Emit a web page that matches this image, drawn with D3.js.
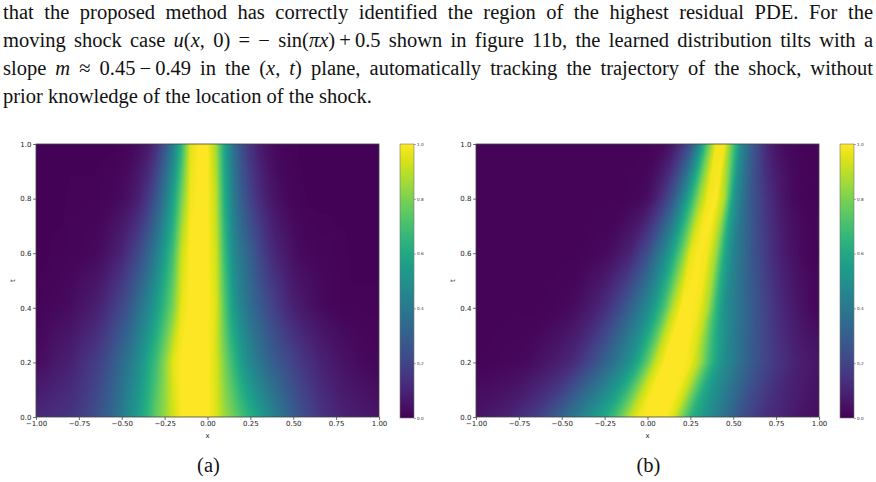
<!DOCTYPE html>
<html>
<head>
<meta charset="utf-8">
<script src="https://cdn.jsdelivr.net/npm/d3@7"></script>
<style>
  body { margin: 0; background: #fff; }
  svg { display: block; }
</style>
</head>
<body>
<script>
// grid of the two heatmaps (rows = t, columns = x)
const xGrid = [-1.00, -0.95, -0.90, -0.85, -0.80, -0.75, -0.70, -0.65, -0.60, -0.55,
               -0.50, -0.45, -0.40, -0.35, -0.30, -0.25, -0.20, -0.15, -0.10, -0.05,
                0.00,  0.05,  0.10,  0.15,  0.20,  0.25,  0.30,  0.35,  0.40,  0.45,
                0.50,  0.55,  0.60,  0.65,  0.70,  0.75,  0.80,  0.85,  0.90,  0.95, 1.00];
const tGrid = [0.0, 0.2, 0.4, 0.6, 0.8, 1.0];

// (a) static shock
const residualA = [
  [0.12, 0.12, 0.13, 0.14, 0.15, 0.17, 0.20, 0.24, 0.29, 0.34, 0.41, 0.49, 0.56, 0.65, 0.76, 0.84, 0.93, 1.00, 1.00, 1.00,
   1.00, 0.95, 0.85, 0.78, 0.70, 0.63, 0.56, 0.49, 0.42, 0.35, 0.29, 0.24, 0.20, 0.16, 0.13, 0.11, 0.09, 0.08, 0.07, 0.06, 0.05],
  [0.03, 0.04, 0.06, 0.075, 0.09, 0.12, 0.15, 0.18, 0.22, 0.28, 0.34, 0.41, 0.49, 0.59, 0.69, 0.82, 0.96, 1.00, 1.00, 1.00,
   1.00, 0.94, 0.80, 0.67, 0.55, 0.46, 0.39, 0.33, 0.28, 0.24, 0.20, 0.16, 0.13, 0.10, 0.08, 0.06, 0.045, 0.035, 0.025, 0.02, 0.015],
  [0.01, 0.015, 0.02, 0.025, 0.03, 0.05, 0.065, 0.085, 0.12, 0.17, 0.22, 0.28, 0.37, 0.45, 0.55, 0.67, 0.80, 0.97, 1.00, 1.00,
   1.00, 0.95, 0.74, 0.55, 0.44, 0.36, 0.29, 0.23, 0.18, 0.13, 0.09, 0.065, 0.045, 0.03, 0.02, 0.015, 0.01, 0.01, 0.01, 0.01, 0.01],
  [0.005, 0.005, 0.01, 0.01, 0.015, 0.015, 0.02, 0.025, 0.04, 0.07, 0.10, 0.16, 0.22, 0.31, 0.42, 0.55, 0.70, 0.92, 1.00, 1.00,
   1.00, 0.93, 0.68, 0.48, 0.38, 0.30, 0.22, 0.15, 0.10, 0.07, 0.04, 0.025, 0.02, 0.015, 0.015, 0.01, 0.01, 0.005, 0.005, 0.005, 0.005],
  [0.005, 0.005, 0.005, 0.005, 0.01, 0.01, 0.01, 0.01, 0.015, 0.02, 0.03, 0.05, 0.09, 0.16, 0.26, 0.40, 0.57, 0.79, 0.98, 1.00,
   1.00, 0.90, 0.62, 0.42, 0.29, 0.20, 0.13, 0.08, 0.045, 0.025, 0.015, 0.01, 0.005, 0.005, 0.005, 0.005, 0.005, 0.005, 0.005, 0.005, 0.005],
  [0.005, 0.005, 0.005, 0.005, 0.005, 0.005, 0.005, 0.005, 0.005, 0.005, 0.01, 0.015, 0.03, 0.06, 0.13, 0.25, 0.42, 0.66, 0.95, 1.00,
   1.00, 0.86, 0.58, 0.37, 0.23, 0.14, 0.08, 0.04, 0.02, 0.01, 0.01, 0.005, 0.005, 0.005, 0.005, 0.005, 0.005, 0.005, 0.005, 0.005, 0.005]
];
// x of the bright band in each row of (a)
const centreA = [-0.07, -0.07, -0.05, -0.04, -0.03, -0.03];

// (b) moving shock
const residualB = [
  [0.05, 0.06, 0.07, 0.085, 0.10, 0.125, 0.15, 0.18, 0.22, 0.27, 0.32, 0.38, 0.43, 0.48, 0.54, 0.60, 0.68, 0.78, 0.90, 0.98,
   1.00, 1.00, 1.00, 0.95, 0.80, 0.65, 0.57, 0.50, 0.43, 0.37, 0.30, 0.24, 0.20, 0.16, 0.13, 0.11, 0.09, 0.07, 0.05, 0.04, 0.03],
  [0.01, 0.012, 0.015, 0.018, 0.02, 0.022, 0.027, 0.04, 0.055, 0.07, 0.09, 0.11, 0.15, 0.20, 0.25, 0.31, 0.37, 0.44, 0.51, 0.62,
   0.76, 0.92, 1.00, 1.00, 1.00, 0.98, 0.88, 0.72, 0.58, 0.48, 0.42, 0.35, 0.29, 0.24, 0.20, 0.16, 0.13, 0.10, 0.08, 0.065, 0.05],
  [0.01, 0.01, 0.01, 0.01, 0.01, 0.01, 0.01, 0.01, 0.012, 0.015, 0.02, 0.025, 0.04, 0.065, 0.09, 0.13, 0.18, 0.24, 0.31, 0.39,
   0.47, 0.58, 0.72, 0.90, 1.00, 1.00, 0.98, 0.88, 0.66, 0.50, 0.43, 0.36, 0.30, 0.24, 0.19, 0.14, 0.10, 0.07, 0.045, 0.025, 0.015],
  [0.01, 0.01, 0.01, 0.01, 0.01, 0.01, 0.01, 0.01, 0.01, 0.01, 0.01, 0.01, 0.01, 0.015, 0.02, 0.025, 0.04, 0.07, 0.10, 0.17,
   0.24, 0.35, 0.46, 0.60, 0.77, 0.96, 1.00, 0.98, 0.85, 0.60, 0.45, 0.37, 0.28, 0.22, 0.16, 0.11, 0.07, 0.045, 0.025, 0.015, 0.01],
  [0.01, 0.01, 0.01, 0.01, 0.01, 0.01, 0.01, 0.01, 0.01, 0.01, 0.01, 0.01, 0.01, 0.01, 0.01, 0.01, 0.01, 0.01, 0.015, 0.02,
   0.035, 0.09, 0.17, 0.28, 0.44, 0.63, 0.84, 0.98, 1.00, 0.87, 0.55, 0.39, 0.28, 0.21, 0.14, 0.09, 0.05, 0.025, 0.015, 0.01, 0.01],
  [0.01, 0.01, 0.01, 0.01, 0.01, 0.01, 0.01, 0.01, 0.01, 0.01, 0.01, 0.01, 0.01, 0.01, 0.01, 0.01, 0.01, 0.01, 0.01, 0.01,
   0.01, 0.015, 0.025, 0.06, 0.14, 0.25, 0.46, 0.74, 0.98, 0.98, 0.72, 0.46, 0.31, 0.20, 0.10, 0.05, 0.025, 0.015, 0.01, 0.01, 0.01]
];
// x of the bright band in each row of (b)
const centreB = [0.03, 0.17, 0.26, 0.31, 0.38, 0.425];

const xTicks = [-1.00, -0.75, -0.50, -0.25, 0.00, 0.25, 0.50, 0.75, 1.00];
const tTicks = [0.0, 0.2, 0.4, 0.6, 0.8, 1.0];
const cbarTicks = [0.0, 0.2, 0.4, 0.6, 0.8, 1.0];

const W = 876, H = 482;
const svg = d3.select("body").append("svg")
    .attr("width", W)
    .attr("height", H);

const color = d3.scaleSequential(d3.interpolateViridis).domain([0, 1]).clamp(true);

// paragraph above the figure
const paraFont = "Liberation Serif, DejaVu Serif, serif";
const paraSize = 20.5;
const lines = [
    [["that the proposed method has correctly identified the region of the highest residual PDE. For the", false]],
    [["moving shock case ", false], ["u", true], ["(", false], ["x", true], [", 0) = \u2212 sin(", false], ["\u03c0x", true],
     [")\u2009+\u20090.5 shown in figure 11b, the learned distribution tilts with a", false]],
    [["slope ", false], ["m", true], [" \u2248 0.45\u2009\u2212\u20090.49 in the (", false], ["x", true], [", ", false], ["t", true],
     [") plane, automatically tracking the trajectory of the shock, without", false]],
    [["prior knowledge of the location of the shock.", false]]
];
const lineY = [19, 47, 75, 103];

lines.forEach((parts, i) => {
    const txt = svg.append("text")
        .attr("x", 3)
        .attr("y", lineY[i])
        .attr("font-family", paraFont)
        .attr("font-size", paraSize)
        .attr("fill", "#111");
    parts.forEach(p => {
        txt.append("tspan")
            .attr("font-style", p[1] ? "italic" : null)
            .text(p[0]);
    });
    if (i < 3) {
        // justify with word spacing
        const natural = txt.node().getComputedTextLength();
        const spaces = parts.map(p => p[0]).join("").split(" ").length - 1;
        txt.attr("word-spacing", (870 - natural) / spaces);
    }
});

// value of one row at position x (linear between read points)
function rowValue(row, x) {
    x = Math.max(-1, Math.min(1, x));
    let i = Math.min(xGrid.length - 2, Math.max(0, d3.bisectRight(xGrid, x) - 1));
    let fx = (x - xGrid[i]) / (xGrid[i + 1] - xGrid[i]);
    return row[i] * (1 - fx) + row[i + 1] * fx;
}

// blend neighbouring rows, following the band so it moves smoothly
function sample(grid, centre, x, t) {
    let j = Math.min(tGrid.length - 2, Math.max(0, d3.bisectRight(tGrid, t) - 1));
    let ft = (t - tGrid[j]) / (tGrid[j + 1] - tGrid[j]);
    let c = centre[j] * (1 - ft) + centre[j + 1] * ft;
    let a = rowValue(grid[j], x - c + centre[j]);
    let b = rowValue(grid[j + 1], x - c + centre[j + 1]);
    return a * (1 - ft) + b * ft;
}

// viridis gradient for the colour bars
const defs = svg.append("defs");
const grad = defs.append("linearGradient")
    .attr("id", "viridis")
    .attr("x1", 0).attr("y1", 1).attr("x2", 0).attr("y2", 0);
d3.range(0, 21).forEach(k => {
    grad.append("stop")
        .attr("offset", k / 20)
        .attr("stop-color", color(k / 20));
});

function drawPanel(grid, centre, left, cbLeft, caption) {
    const top = 144, bottom = 417, right = left + 343;
    const x = d3.scaleLinear().domain([-1, 1]).range([left, right]);
    const t = d3.scaleLinear().domain([0, 1]).range([bottom, top]);

    // heatmap image
    const w = right - left, h = bottom - top;
    const canvas = document.createElement("canvas");
    canvas.width = w;
    canvas.height = h;
    const ctx = canvas.getContext("2d");
    const img = ctx.createImageData(w, h);
    for (let py = 0; py < h; py++) {
        const tv = t.invert(top + py + 0.5);
        for (let px = 0; px < w; px++) {
            const xv = x.invert(left + px + 0.5);
            const c = d3.rgb(color(sample(grid, centre, xv, tv)));
            const k = (py * w + px) * 4;
            img.data[k] = c.r;
            img.data[k + 1] = c.g;
            img.data[k + 2] = c.b;
            img.data[k + 3] = 255;
        }
    }
    ctx.putImageData(img, 0, 0);
    svg.append("image")
        .attr("x", left).attr("y", top)
        .attr("width", w).attr("height", h)
        .attr("href", canvas.toDataURL());

    svg.append("rect")
        .attr("x", left).attr("y", top)
        .attr("width", w).attr("height", h)
        .attr("fill", "none")
        .attr("stroke", "#444")
        .attr("stroke-width", 0.8);

    const xAxis = svg.append("g")
        .attr("transform", `translate(0,${bottom})`)
        .call(d3.axisBottom(x).tickValues(xTicks).tickFormat(d3.format(".2f")).tickSize(3).tickPadding(1.5));
    const tAxis = svg.append("g")
        .attr("transform", `translate(${left},0)`)
        .call(d3.axisLeft(t).tickValues(tTicks).tickFormat(d3.format(".1f")).tickSize(3).tickPadding(1.5));
    [xAxis, tAxis].forEach(g => {
        g.select(".domain").remove();
        g.selectAll("line").attr("stroke", "#333").attr("stroke-width", 0.7);
        g.selectAll("text")
            .attr("font-family", "DejaVu Sans")
            .attr("font-size", 7)
            .attr("fill", "#222");
    });

    svg.append("text")
        .attr("x", (left + right) / 2)
        .attr("y", 438)
        .attr("text-anchor", "middle")
        .attr("font-family", "DejaVu Sans")
        .attr("font-size", 7)
        .attr("fill", "#222")
        .text("x");
    svg.append("text")
        .attr("transform", `translate(${left - 21},${(top + bottom) / 2}) rotate(-90)`)
        .attr("text-anchor", "middle")
        .attr("font-family", "DejaVu Sans")
        .attr("font-size", 7)
        .attr("fill", "#222")
        .text("t");

    // colour bar
    const cb = d3.scaleLinear().domain([0, 1]).range([418, 144]);
    svg.append("rect")
        .attr("x", cbLeft).attr("y", 144)
        .attr("width", 14).attr("height", 274)
        .attr("fill", "url(#viridis)")
        .attr("stroke", "#777")
        .attr("stroke-width", 0.6);
    const cbAxis = svg.append("g")
        .attr("transform", `translate(${cbLeft + 14},0)`)
        .call(d3.axisRight(cb).tickValues(cbarTicks).tickFormat(d3.format(".1f")).tickSize(2).tickPadding(1));
    cbAxis.select(".domain").remove();
    cbAxis.selectAll("line").attr("stroke", "#555").attr("stroke-width", 0.5);
    cbAxis.selectAll("text")
        .attr("font-family", "DejaVu Sans")
        .attr("font-size", 4.2)
        .attr("fill", "#333");

    svg.append("text")
        .attr("x", (left + right) / 2 + 1)
        .attr("y", 472)
        .attr("text-anchor", "middle")
        .attr("font-family", paraFont)
        .attr("font-size", paraSize)
        .attr("fill", "#111")
        .text(caption);
}

drawPanel(residualA, centreA, 36, 400, "(a)");
drawPanel(residualB, centreB, 476, 840, "(b)");
</script>
</body>
</html>
